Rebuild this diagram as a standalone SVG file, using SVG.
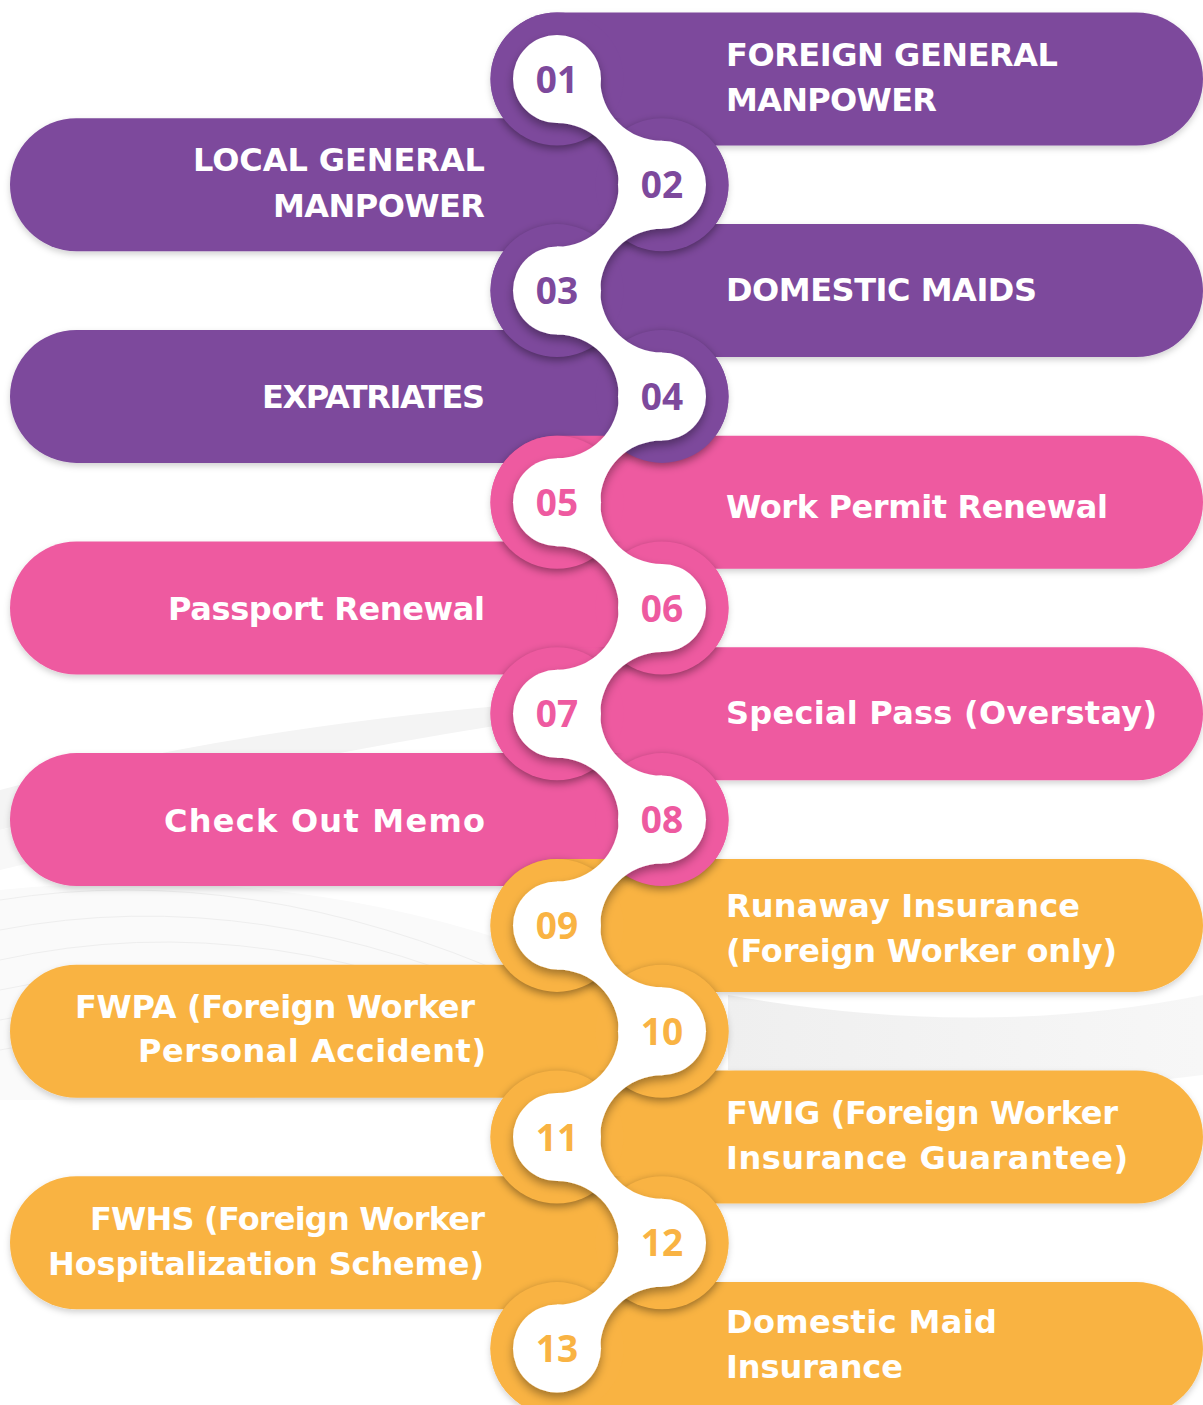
<svg xmlns="http://www.w3.org/2000/svg" width="1203" height="1405" viewBox="0 0 1203 1405">
<style>
.purple{fill:#7D499C}
.pink{fill:#EE5AA0}
.orange{fill:#F9B343}
.lbl{font-family:"DejaVu Sans","Liberation Sans",sans-serif;font-weight:bold;font-size:32px;fill:#FFFFFF}
.end{text-anchor:end}
.num{font-family:"Open Sans","DejaVu Sans",sans-serif;font-weight:bold;font-size:37px;text-anchor:middle}
.capsh{fill:#000000;fill-opacity:0.4;filter:url(#blur)}
.bgline{fill:none;stroke:#EEEEEE;stroke-width:1}
</style>
<defs>
<filter id="blur" x="-30%" y="-30%" width="160%" height="160%">
<feGaussianBlur stdDeviation="4"/>
<feOffset dx="0" dy="3"/>
</filter>
<filter id="pillsh" x="-10%" y="-30%" width="120%" height="160%">
<feDropShadow dx="0" dy="3" stdDeviation="3" flood-color="#000" flood-opacity="0.18"/>
</filter>
<filter id="snakesh" x="-30%" y="-10%" width="160%" height="120%">
<feDropShadow dx="0" dy="5" stdDeviation="5" flood-color="#000" flood-opacity="0.35"/>
</filter>
<linearGradient id="bandR" x1="0" y1="0" x2="1" y2="0">
<stop offset="0" stop-color="#EFEFEF"/>
<stop offset="1" stop-color="#F7F7F7"/>
</linearGradient>
<clipPath id="nb01"><rect x="10" y="118.3" width="718.5" height="133" rx="66.5"/></clipPath>
<clipPath id="nb02"><rect x="490.5" y="12.5" width="712.5" height="133" rx="66.5"/><rect x="490.5" y="224.1" width="712.5" height="133" rx="66.5"/></clipPath>
<clipPath id="nb03"><rect x="10" y="118.3" width="718.5" height="133" rx="66.5"/><rect x="10" y="329.9" width="718.5" height="133" rx="66.5"/></clipPath>
<clipPath id="nb04"><rect x="490.5" y="224.1" width="712.5" height="133" rx="66.5"/><rect x="490.5" y="435.7" width="712.5" height="133" rx="66.5"/></clipPath>
<clipPath id="nb05"><rect x="10" y="329.9" width="718.5" height="133" rx="66.5"/><rect x="10" y="541.5" width="718.5" height="133" rx="66.5"/></clipPath>
<clipPath id="nb06"><rect x="490.5" y="435.7" width="712.5" height="133" rx="66.5"/><rect x="490.5" y="647.3" width="712.5" height="133" rx="66.5"/></clipPath>
<clipPath id="nb07"><rect x="10" y="541.5" width="718.5" height="133" rx="66.5"/><rect x="10" y="753.1" width="718.5" height="133" rx="66.5"/></clipPath>
<clipPath id="nb08"><rect x="490.5" y="647.3" width="712.5" height="133" rx="66.5"/><rect x="490.5" y="858.9" width="712.5" height="133" rx="66.5"/></clipPath>
<clipPath id="nb09"><rect x="10" y="753.1" width="718.5" height="133" rx="66.5"/><rect x="10" y="964.7" width="718.5" height="133" rx="66.5"/></clipPath>
<clipPath id="nb10"><rect x="490.5" y="858.9" width="712.5" height="133" rx="66.5"/><rect x="490.5" y="1070.5" width="712.5" height="133" rx="66.5"/></clipPath>
<clipPath id="nb11"><rect x="10" y="964.7" width="718.5" height="133" rx="66.5"/><rect x="10" y="1176.3" width="718.5" height="133" rx="66.5"/></clipPath>
<clipPath id="nb12"><rect x="490.5" y="1070.5" width="712.5" height="133" rx="66.5"/><rect x="490.5" y="1282.1" width="712.5" height="133" rx="66.5"/></clipPath>
<clipPath id="nb13"><rect x="10" y="1176.3" width="718.5" height="133" rx="66.5"/></clipPath>
</defs>

<rect x="0" y="0" width="1203" height="1405" fill="#FFFFFF"/>

<g id="background">
<path d="M0,790 Q320,705 760,690 Q360,735 0,830 Z" fill="#F4F4F4"/>
<path d="M0,830 Q300,760 700,735 Q330,790 0,870 Z" fill="#F8F8F8"/>
<path d="M0,890 Q300,860 560,960 L600,1100 L0,1100 Z" fill="#FAFAFA"/>
<path class="bgline" d="M0,900 Q250,860 520,980"/>
<path class="bgline" d="M0,930 Q260,880 540,1010"/>
<path class="bgline" d="M0,960 Q270,900 560,1040"/>
<path class="bgline" d="M0,990 Q280,930 580,1070"/>
<path class="bgline" d="M0,1020 Q290,960 600,1090"/>
<path class="bgline" d="M0,1050 Q300,990 600,1100"/>
<path d="M728,995 Q980,1040 1203,995 L1203,1075 Q980,1105 728,1070 Z" fill="url(#bandR)"/>
</g>

<g id="pills" filter="url(#pillsh)">
<g id="node-01"><rect class="purple" x="490.5" y="12.5" width="712.5" height="133" rx="66.5"/></g>
<g id="node-02"><rect class="purple" x="10" y="118.3" width="718.5" height="133" rx="66.5"/></g>
<g id="node-03"><rect class="purple" x="490.5" y="224.1" width="712.5" height="133" rx="66.5"/></g>
<g id="node-04"><rect class="purple" x="10" y="329.9" width="718.5" height="133" rx="66.5"/></g>
<g id="node-05"><rect class="pink" x="490.5" y="435.7" width="712.5" height="133" rx="66.5"/></g>
<g id="node-06"><rect class="pink" x="10" y="541.5" width="718.5" height="133" rx="66.5"/></g>
<g id="node-07"><rect class="pink" x="490.5" y="647.3" width="712.5" height="133" rx="66.5"/></g>
<g id="node-08"><rect class="pink" x="10" y="753.1" width="718.5" height="133" rx="66.5"/></g>
<g id="node-09"><rect class="orange" x="490.5" y="858.9" width="712.5" height="133" rx="66.5"/></g>
<g id="node-10"><rect class="orange" x="10" y="964.7" width="718.5" height="133" rx="66.5"/></g>
<g id="node-11"><rect class="orange" x="490.5" y="1070.5" width="712.5" height="133" rx="66.5"/></g>
<g id="node-12"><rect class="orange" x="10" y="1176.3" width="718.5" height="133" rx="66.5"/></g>
<g id="node-13"><rect class="orange" x="490.5" y="1282.1" width="712.5" height="133" rx="66.5"/></g>
</g>

<g id="cap-shadows">
<circle class="capsh" cx="557" cy="79" r="66.5" clip-path="url(#nb01)"/>
<circle class="capsh" cx="662" cy="184.8" r="66.5" clip-path="url(#nb02)"/>
<circle class="capsh" cx="557" cy="290.6" r="66.5" clip-path="url(#nb03)"/>
<circle class="capsh" cx="662" cy="396.4" r="66.5" clip-path="url(#nb04)"/>
<circle class="capsh" cx="557" cy="502.2" r="66.5" clip-path="url(#nb05)"/>
<circle class="capsh" cx="662" cy="608" r="66.5" clip-path="url(#nb06)"/>
<circle class="capsh" cx="557" cy="713.8" r="66.5" clip-path="url(#nb07)"/>
<circle class="capsh" cx="662" cy="819.6" r="66.5" clip-path="url(#nb08)"/>
<circle class="capsh" cx="557" cy="925.4" r="66.5" clip-path="url(#nb09)"/>
<circle class="capsh" cx="662" cy="1031.2" r="66.5" clip-path="url(#nb10)"/>
<circle class="capsh" cx="557" cy="1137" r="66.5" clip-path="url(#nb11)"/>
<circle class="capsh" cx="662" cy="1242.8" r="66.5" clip-path="url(#nb12)"/>
<circle class="capsh" cx="557" cy="1348.6" r="66.5" clip-path="url(#nb13)"/>
</g>

<g id="caps">
<circle id="cap-01" class="purple" cx="557" cy="79" r="66.5"/>
<circle id="cap-02" class="purple" cx="662" cy="184.8" r="66.5"/>
<circle id="cap-03" class="purple" cx="557" cy="290.6" r="66.5"/>
<circle id="cap-04" class="purple" cx="662" cy="396.4" r="66.5"/>
<circle id="cap-05" class="pink" cx="557" cy="502.2" r="66.5"/>
<circle id="cap-06" class="pink" cx="662" cy="608" r="66.5"/>
<circle id="cap-07" class="pink" cx="557" cy="713.8" r="66.5"/>
<circle id="cap-08" class="pink" cx="662" cy="819.6" r="66.5"/>
<circle id="cap-09" class="orange" cx="557" cy="925.4" r="66.5"/>
<circle id="cap-10" class="orange" cx="662" cy="1031.2" r="66.5"/>
<circle id="cap-11" class="orange" cx="557" cy="1137" r="66.5"/>
<circle id="cap-12" class="orange" cx="662" cy="1242.8" r="66.5"/>
<circle id="cap-13" class="orange" cx="557" cy="1348.6" r="66.5"/>
</g>

<g id="connectors" fill="#FFFFFF" filter="url(#snakesh)">
<circle cx="557" cy="79" r="44"/>
<circle cx="662" cy="184.8" r="44"/>
<circle cx="557" cy="290.6" r="44"/>
<circle cx="662" cy="396.4" r="44"/>
<circle cx="557" cy="502.2" r="44"/>
<circle cx="662" cy="608" r="44"/>
<circle cx="557" cy="713.8" r="44"/>
<circle cx="662" cy="819.6" r="44"/>
<circle cx="557" cy="925.4" r="44"/>
<circle cx="662" cy="1031.2" r="44"/>
<circle cx="557" cy="1137" r="44"/>
<circle cx="662" cy="1242.8" r="44"/>
<circle cx="557" cy="1348.6" r="44"/>
<path d="M557,79 H600.2 A61.8,61.8 0 0 0 662,140.8 V184.8 H618.8 A61.8,61.8 0 0 0 557,123 Z"/>
<path d="M662,184.8 H618.8 A61.8,61.8 0 0 1 557,246.6 V290.6 H600.2 A61.8,61.8 0 0 1 662,228.8 Z"/>
<path d="M557,290.6 H600.2 A61.8,61.8 0 0 0 662,352.4 V396.4 H618.8 A61.8,61.8 0 0 0 557,334.6 Z"/>
<path d="M662,396.4 H618.8 A61.8,61.8 0 0 1 557,458.2 V502.2 H600.2 A61.8,61.8 0 0 1 662,440.4 Z"/>
<path d="M557,502.2 H600.2 A61.8,61.8 0 0 0 662,564 V608 H618.8 A61.8,61.8 0 0 0 557,546.2 Z"/>
<path d="M662,608 H618.8 A61.8,61.8 0 0 1 557,669.8 V713.8 H600.2 A61.8,61.8 0 0 1 662,652 Z"/>
<path d="M557,713.8 H600.2 A61.8,61.8 0 0 0 662,775.6 V819.6 H618.8 A61.8,61.8 0 0 0 557,757.8 Z"/>
<path d="M662,819.6 H618.8 A61.8,61.8 0 0 1 557,881.4 V925.4 H600.2 A61.8,61.8 0 0 1 662,863.6 Z"/>
<path d="M557,925.4 H600.2 A61.8,61.8 0 0 0 662,987.2 V1031.2 H618.8 A61.8,61.8 0 0 0 557,969.4 Z"/>
<path d="M662,1031.2 H618.8 A61.8,61.8 0 0 1 557,1093 V1137 H600.2 A61.8,61.8 0 0 1 662,1075.2 Z"/>
<path d="M557,1137 H600.2 A61.8,61.8 0 0 0 662,1198.8 V1242.8 H618.8 A61.8,61.8 0 0 0 557,1181 Z"/>
<path d="M662,1242.8 H618.8 A61.8,61.8 0 0 1 557,1304.6 V1348.6 H600.2 A61.8,61.8 0 0 1 662,1286.8 Z"/>
</g>

<g id="numbers">
<text id="num-01" class="num purple" x="557" y="92.5">01</text>
<text id="num-02" class="num purple" x="662" y="198.3">02</text>
<text id="num-03" class="num purple" x="557" y="304.1">03</text>
<text id="num-04" class="num purple" x="662" y="409.9">04</text>
<text id="num-05" class="num pink" x="557" y="515.7">05</text>
<text id="num-06" class="num pink" x="662" y="621.5">06</text>
<text id="num-07" class="num pink" x="557" y="727.3">07</text>
<text id="num-08" class="num pink" x="662" y="833.1">08</text>
<text id="num-09" class="num orange" x="557" y="938.9">09</text>
<text id="num-10" class="num orange" x="662" y="1044.7">10</text>
<text id="num-11" class="num orange" x="557" y="1150.5">11</text>
<text id="num-12" class="num orange" x="662" y="1256.3">12</text>
<text id="num-13" class="num orange" x="557" y="1362.1">13</text>
</g>

<g id="labels">
<text id="label-01a" class="lbl" x="726" y="66" textLength="332" lengthAdjust="spacing">FOREIGN GENERAL</text>
<text id="label-01b" class="lbl" x="726" y="111" textLength="211" lengthAdjust="spacing">MANPOWER</text>
<text id="label-02a" class="lbl end" x="485" y="171" textLength="292" lengthAdjust="spacing">LOCAL GENERAL</text>
<text id="label-02b" class="lbl end" x="485" y="217" textLength="212" lengthAdjust="spacing">MANPOWER</text>
<text id="label-03" class="lbl" x="726" y="301" textLength="311" lengthAdjust="spacing">DOMESTIC MAIDS</text>
<text id="label-04" class="lbl end" x="485" y="408" textLength="223" lengthAdjust="spacing">EXPATRIATES</text>
<text id="label-05" class="lbl" x="726" y="518" textLength="382" lengthAdjust="spacing">Work Permit Renewal</text>
<text id="label-06" class="lbl end" x="485" y="620" textLength="317" lengthAdjust="spacing">Passport Renewal</text>
<text id="label-07" class="lbl" x="726" y="724" textLength="431" lengthAdjust="spacing">Special Pass (Overstay)</text>
<text id="label-08" class="lbl end" x="485" y="832" textLength="321" lengthAdjust="spacing">Check Out Memo</text>
<text id="label-09a" class="lbl" x="726" y="917" textLength="354" lengthAdjust="spacing">Runaway Insurance</text>
<text id="label-09b" class="lbl" x="726" y="962" textLength="391" lengthAdjust="spacing">(Foreign Worker only)</text>
<text id="label-10a" class="lbl end" x="475" y="1018" textLength="400" lengthAdjust="spacing">FWPA (Foreign Worker</text>
<text id="label-10b" class="lbl end" x="486" y="1062" textLength="348" lengthAdjust="spacing">Personal Accident)</text>
<text id="label-11a" class="lbl" x="726" y="1124" textLength="392" lengthAdjust="spacing">FWIG (Foreign Worker</text>
<text id="label-11b" class="lbl" x="726" y="1169" textLength="402" lengthAdjust="spacing">Insurance Guarantee)</text>
<text id="label-12a" class="lbl end" x="485" y="1230" textLength="395" lengthAdjust="spacing">FWHS (Foreign Worker</text>
<text id="label-12b" class="lbl end" x="484" y="1275" textLength="436" lengthAdjust="spacing">Hospitalization Scheme)</text>
<text id="label-13a" class="lbl" x="726" y="1333" textLength="271" lengthAdjust="spacing">Domestic Maid</text>
<text id="label-13b" class="lbl" x="726" y="1378" textLength="177" lengthAdjust="spacing">Insurance</text>
</g>
</svg>
